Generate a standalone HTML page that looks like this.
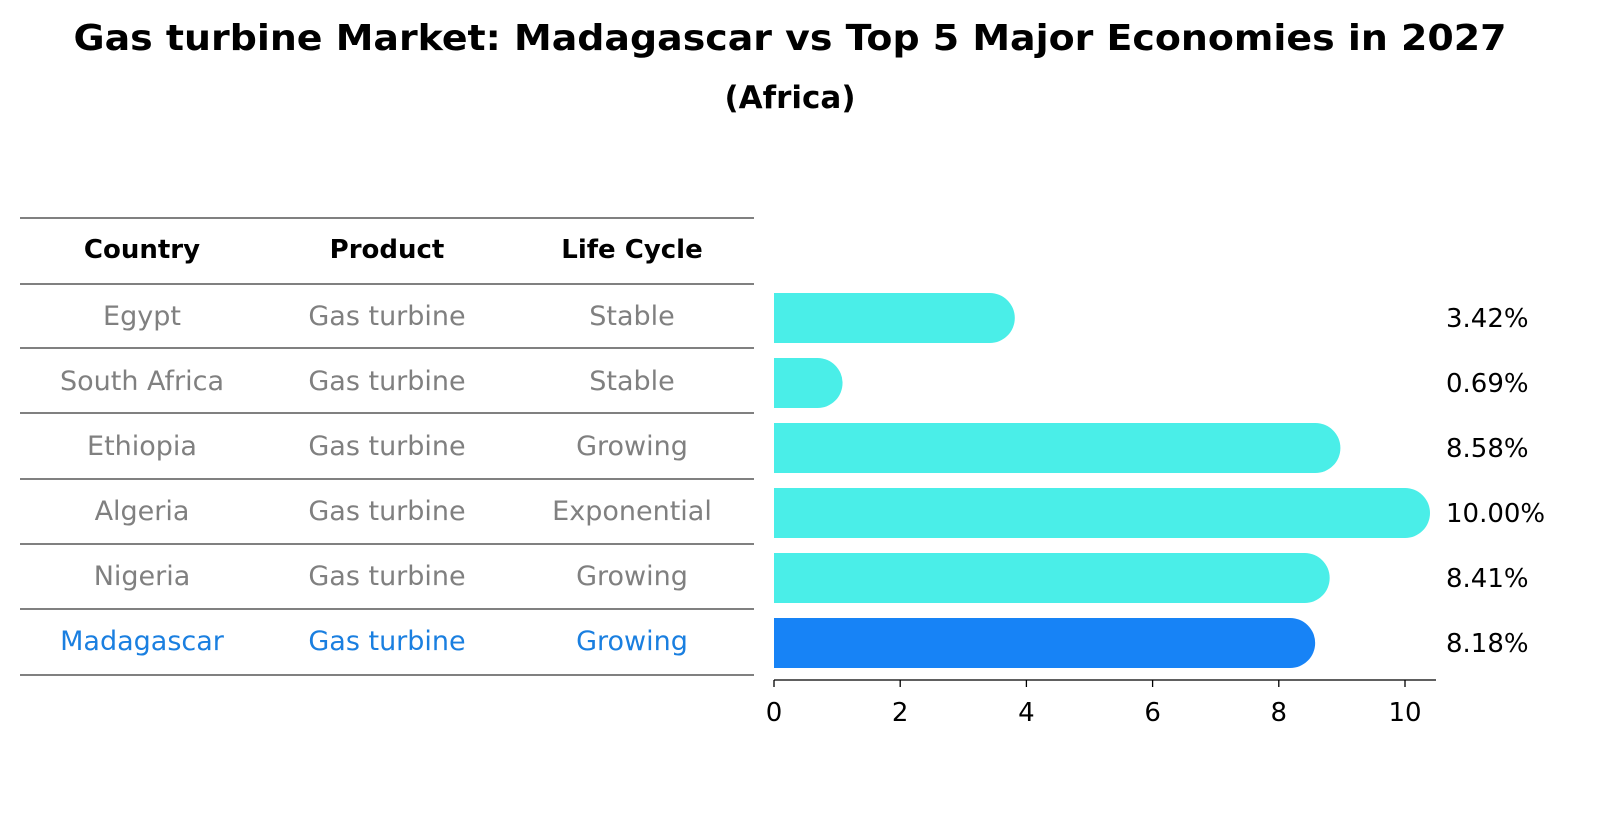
<!DOCTYPE html>
<html><head><meta charset="utf-8"><style>
body{margin:0;background:#fff;font-family:"Liberation Sans","DejaVu Sans",sans-serif}
svg text{font-family:"DejaVu Sans","Liberation Sans",sans-serif}
</style></head><body>
<svg id="chart" width="1604" height="823" xmlns="http://www.w3.org/2000/svg">
<text x="790" y="50" text-anchor="middle" font-size="36" font-weight="bold" textLength="1433" lengthAdjust="spacingAndGlyphs">Gas turbine Market: Madagascar vs Top 5 Major Economies in 2027</text>
<text x="790" y="108" text-anchor="middle" font-size="31" font-weight="bold">(Africa)</text>
<g id="table"></g>
<g id="bars"></g>
<g id="axis"></g>
</svg>
<script>
const countries=["Egypt","South Africa","Ethiopia","Algeria","Nigeria","Madagascar"];
const products=["Gas turbine","Gas turbine","Gas turbine","Gas turbine","Gas turbine","Gas turbine"];
const lifeCycles=["Stable","Stable","Growing","Exponential","Growing","Growing"];
const values=[3.42,0.69,8.58,10.00,8.41,8.18];
const ticks=[0,2,4,6,8,10];
const NS="http://www.w3.org/2000/svg";
function mk(p,t,a,txt){const e=document.createElementNS(NS,t);for(const k in a)e.setAttribute(k,a[k]);if(txt!==undefined)e.textContent=txt;p.appendChild(e);return e;}
const x=v=>774+v*63.1;
const tbl=document.getElementById('table');
const lines=[218,284,348,413,479,544,609,675];
lines.forEach((ly)=>{const l=mk(tbl,'line',{x1:20,x2:754,y1:ly,y2:ly,stroke:'#000','stroke-width':1});

});
const cx=[142,387,632];
["Country","Product","Life Cycle"].forEach((h,j)=>{const t=mk(tbl,'text',{x:cx[j],y:258,'text-anchor':'middle','font-size':26,'font-weight':'bold'},h);

});
const rowsY=[315,380,445,510,575,640];
countries.forEach((c,i)=>{const col=c==="Madagascar"?"#1a7fe0":"#808080";
[c,products[i],lifeCycles[i]].forEach((v,j)=>{const t=mk(tbl,'text',{x:cx[j],y:rowsY[i]+10,'text-anchor':'middle','font-size':27,fill:col},v);

});});
const bars=document.getElementById('bars');
values.forEach((v,i)=>{const cy=rowsY[i]+3,r=25,col=countries[i]==="Madagascar"?"#1783f6":"#4aeee8";
const xe=x(v);
const p=mk(bars,'path',{d:`M774 ${cy-r} L${xe} ${cy-r} A${r} ${r} 0 0 1 ${xe} ${cy+r} L774 ${cy+r} Z`,fill:col});


const t=mk(bars,'text',{x:1446,y:cy+9,'font-size':26},v.toFixed(2)+'%');

});
const ax=document.getElementById('axis');
mk(ax,'line',{x1:774,x2:1436,y1:680,y2:680,stroke:'#000','stroke-width':1.3});
ticks.forEach(t=>{mk(ax,'line',{x1:x(t),x2:x(t),y1:680,y2:687,stroke:'#000','stroke-width':1.3});
const e=mk(ax,'text',{x:x(t),y:721,'text-anchor':'middle','font-size':26},String(t));

});
</script>
</body></html>
